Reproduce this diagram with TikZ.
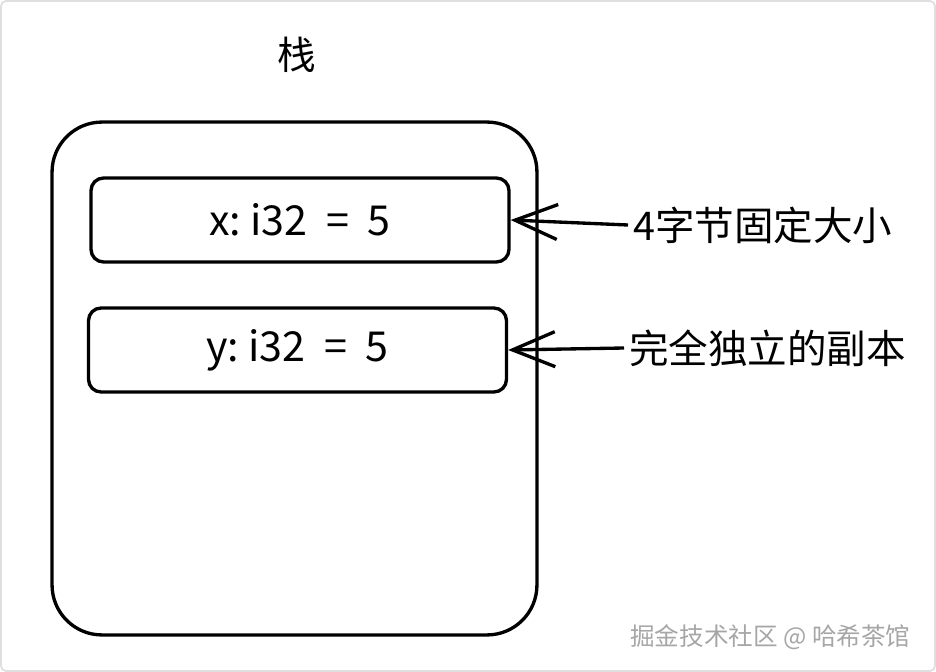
\documentclass[tikz,border=0pt]{standalone}
\usepackage{fontspec}
\setmainfont{Noto Sans CJK SC}
\usetikzlibrary{arrows.meta}

\begin{document}
\begin{tikzpicture}[x=0.02cm,y=-0.02cm,line width=1.9pt,
  box/.style={draw,rounded corners=0.25cm,minimum width=8.36cm,minimum height=1.68cm,font=\fontsize{23.5}{27}\selectfont},
  lbl/.style={font=\fontsize{22.5}{26}\selectfont,inner sep=2pt},
  tip/.style={-{Straight Barb[length=0.85cm,width=0.7cm]}}]
\useasboundingbox (0,0) rectangle (936,672);
\draw[gray!25,line width=1pt,rounded corners=0.1cm] (1,1) rectangle (935,671);
\node[font=\fontsize{22}{26}\selectfont] (title) at (297,55) {栈};
\node[draw,rounded corners=1cm,minimum width=9.7cm,minimum height=10.26cm] (stack) at (294.5,378.5) {};
\node[box] (xvar) at (300,220) {x:\ i32 \ = \ 5};
\node[box] (yvar) at (297.5,350) {y:\ i32 \ = \ 5};
\node[lbl,anchor=west] (fixed) at (628,225) {4字节固定大小};
\node[lbl,anchor=west] (copy) at (624,348) {完全独立的副本};
\draw[tip] (fixed.west) -- (xvar.east);
\draw[tip] (copy.west) -- (yvar.east);
\node[anchor=east,text=gray!70,font=\fontsize{14}{17}\selectfont] (mark) at (918,637) {掘金技术社区 @ 哈希茶馆};
\end{tikzpicture}
\end{document}
